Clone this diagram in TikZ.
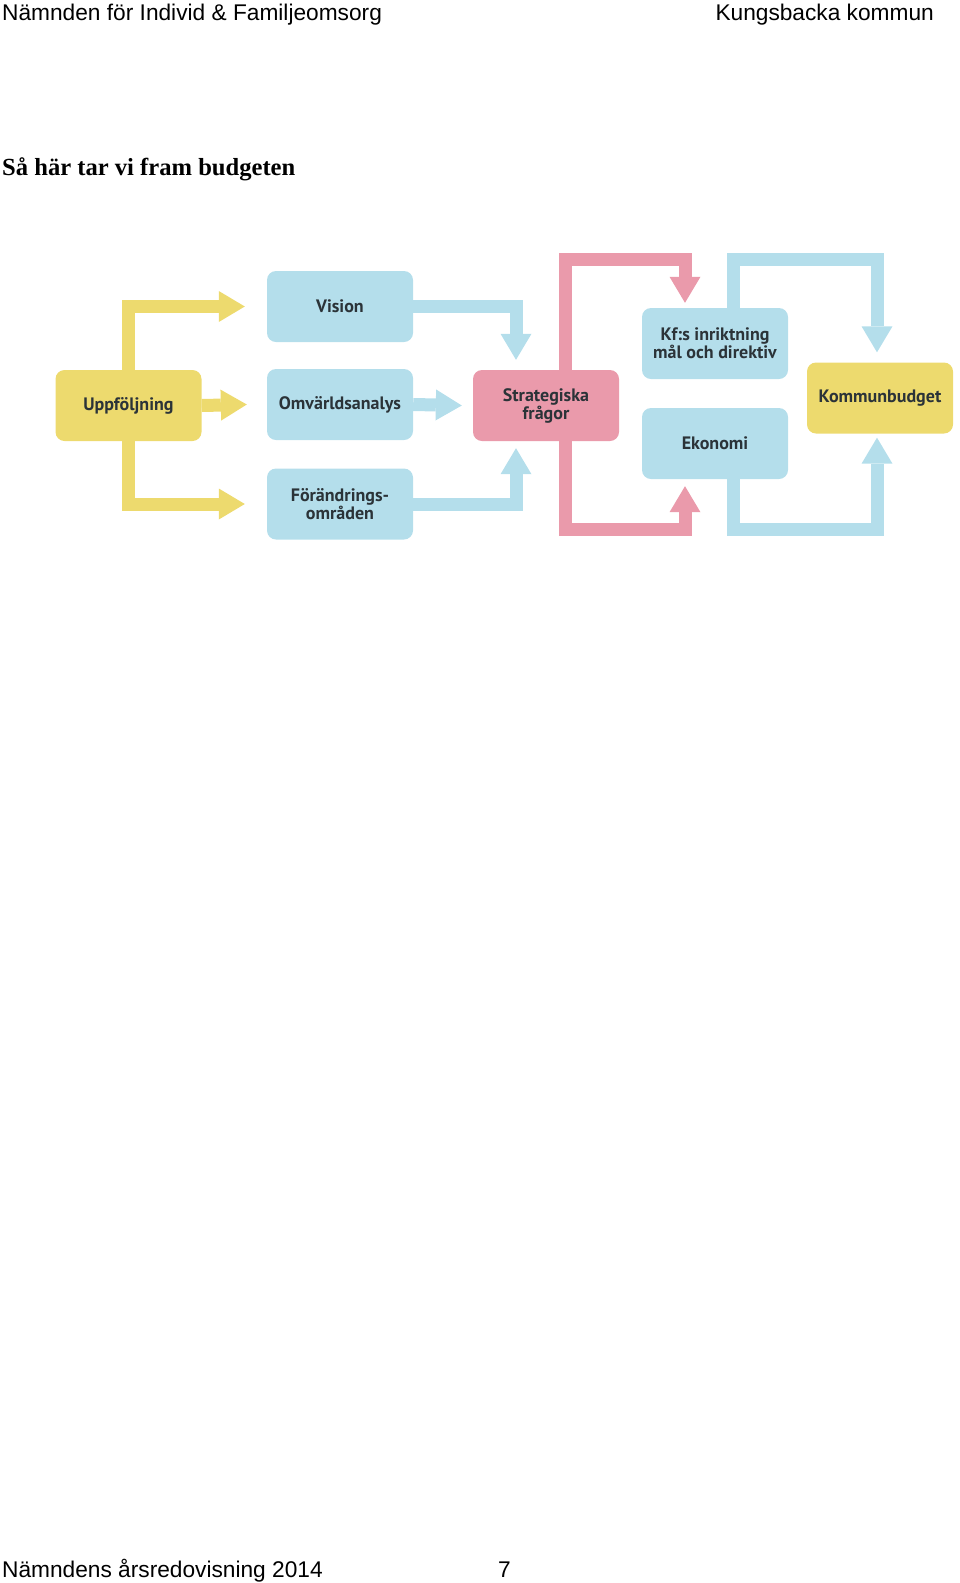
\documentclass[tikz,border=0pt]{standalone}
\usepackage{fontspec}
\setmainfont{Liberation Sans}
\newfontfamily\titlefont{Liberation Serif}
\newfontfamily\dfont{PT Sans}
\usetikzlibrary{arrows.meta}
\definecolor{cyel}{HTML}{EDDA6E}
\definecolor{cblue}{HTML}{B4DEEB}
\definecolor{cpink}{HTML}{EA9AAB}
\definecolor{ctext}{HTML}{2B3338}
\begin{document}
\begin{tikzpicture}[x=1pt,y=-1pt,
  box/.style={rounded corners=9pt, minimum width=146pt, minimum height=71pt, inner sep=0pt, align=center,
    font=\dfont\bfseries\fontsize{18}{18}\selectfont, text=ctext},
  ybox/.style={box, fill=cyel},
  bbox/.style={box, fill=cblue},
  pbox/.style={box, fill=cpink},
  flow/.style={line width=13pt, line join=miter, -{Triangle[length=26pt,width=31pt,line width=0pt]}},
  yflow/.style={flow, draw=cyel},
  bflow/.style={flow, draw=cblue},
  pflow/.style={flow, draw=cpink},
  hdr/.style={anchor=base west, inner sep=0pt, font=\fontsize{22.7}{26}\selectfont}
]
\path[use as bounding box] (0,0) rectangle (960,1583);

% page texts
\node[hdr] (h1) at (2,20) {Nämnden för Individ \& Familjeomsorg};
\node[hdr, anchor=base east] (h2) at (934,20) {Kungsbacka kommun};
\node[anchor=base west, inner sep=0pt, font=\titlefont\bfseries\fontsize{24.6}{28}\selectfont] (title) at (2,175) {Så här tar vi fram budgeten};
\node[hdr] (f1) at (2,1577) {Nämndens årsredovisning 2014};
\node[hdr] (f2) at (498,1577) {7};

% boxes
\node[ybox] (upf) at (128.5,405.5) {Uppföljning};
\node[bbox] (vision) at (340,306.5) {Vision};
\node[bbox] (omv) at (340,404.5) {Omvärldsanalys};
\node[bbox] (forand) at (340,504) {Förändrings-\\områden};
\node[pbox] (strat) at (546,405.5) {Strategiska\\frågor};
\node[bbox] (kf) at (715,343.5) {Kf:s inriktning\\mål och direktiv};
\node[bbox] (eko) at (715,443.5) {Ekonomi};
\node[ybox] (kb) at (880,398) {Kommunbudget};

\coordinate (top) at (0,259);
\coordinate (bot) at (0,529.5);

% yellow connectors
\draw[yflow] (upf.north) |- ([xshift=-22pt]vision.west);
\draw[yflow] (upf.east) -- ([xshift=-20pt]omv.west);
\draw[yflow] (upf.south) |- ([xshift=-22pt]forand.west);

% blue into strategiska
\draw[bflow] (vision.east) -| ([xshift=-30pt,yshift=10pt]strat.north);
\draw[bflow] (omv.east) -- ([xshift=-11pt]strat.west);
\draw[bflow] (forand.east) -| ([xshift=-30pt,yshift=-7pt]strat.south);

% pink
\draw[pflow] ([xshift=19pt]strat.north) -- ([xshift=19pt]strat.north |- top) -| ([xshift=-30pt,yshift=5pt]kf.north);
\draw[pflow] ([xshift=19pt]strat.south) -- ([xshift=19pt]strat.south |- bot) -| ([xshift=-30pt,yshift=-7pt]eko.south);

% blue to kommunbudget
\draw[bflow] ([xshift=18pt]kf.north) -- ([xshift=18pt]kf.north |- top) -| ([xshift=-3pt,yshift=10pt]kb.north);
\draw[bflow] ([xshift=18pt]eko.south) -- ([xshift=18pt]eko.south |- bot) -| ([xshift=-3pt,yshift=-4pt]kb.south);
\end{tikzpicture}
\end{document}
